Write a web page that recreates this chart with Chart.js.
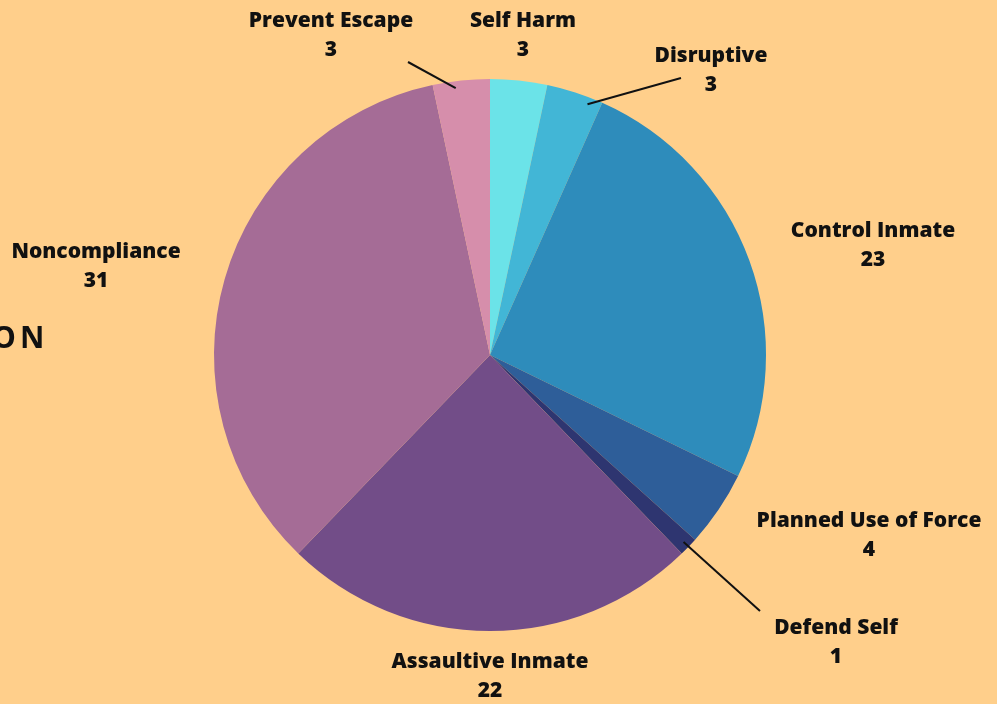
<!DOCTYPE html>
<html>
<head>
<meta charset="utf-8">
<script src="https://cdn.jsdelivr.net/npm/chart.js@4"></script>
<style>
  html, body { margin: 0; padding: 0; background: #ffcf8b; overflow: hidden; }
  #wrap { position: relative; width: 997px; height: 704px; }
  #heading {
    position: absolute; left: -8px; top: 316px;
    font-family: "Open Sans", sans-serif; font-weight: 700; font-size: 30px;
    letter-spacing: 4px; color: #111; white-space: nowrap;
  }
</style>
</head>
<body>
<div id="wrap">
  <div id="heading">ON</div>
  <canvas id="pieChart" width="997" height="704"></canvas>
</div>
<script>
const categories = ['Self Harm', 'Disruptive', 'Control Inmate', 'Planned Use of Force',
  'Defend Self', 'Assaultive Inmate', 'Noncompliance', 'Prevent Escape'];
const counts = [3, 3, 23, 4, 1, 22, 31, 3];
const sliceColors = ['#6be3e8', '#42b6d6', '#2e8cbb', '#2e5e99',
  '#2e3570', '#724d88', '#a56c96', '#d68eab'];

// where each label's two lines are centred, and optional leader line
// (t = position along the slice's arc, end = where the line stops)
const labelSpots = [
  { x: 523, y: 20, leader: null },
  { x: 711, y: 55, leader: { t: 0.77, end: [681, 78] } },
  { x: 873, y: 230, leader: null },
  { x: 869, y: 520, leader: null },
  { x: 836, y: 627, leader: { t: 0.5, end: [760, 611] } },
  { x: 490, y: 661, leader: null },
  { x: 96, y: 251, leader: null },
  { x: 331, y: 20, leader: { t: 0.39, end: [408, 62] } }
];

const sliceLabels = {
  id: 'sliceLabels',
  afterDatasetsDraw(chart) {
    const ctx = chart.ctx;
    const arcs = chart.getDatasetMeta(0).data;
    ctx.save();
    arcs.forEach((arc, i) => {
      const spot = labelSpots[i];
      if (spot.leader) {
        const p = arc.getProps(['x', 'y', 'startAngle', 'endAngle', 'outerRadius'], true);
        const a = p.startAngle + (p.endAngle - p.startAngle) * spot.leader.t;
        const r = p.outerRadius * 0.975;
        ctx.beginPath();
        ctx.moveTo(p.x + Math.cos(a) * r, p.y + Math.sin(a) * r);
        ctx.lineTo(spot.leader.end[0], spot.leader.end[1]);
        ctx.strokeStyle = '#111';
        ctx.lineWidth = 2;
        ctx.stroke();
      }
      ctx.fillStyle = '#111';
      ctx.font = '800 21px "Open Sans"';
      ctx.textAlign = 'center';
      ctx.textBaseline = 'middle';
      ctx.fillText(categories[i], spot.x, spot.y + 1);
      ctx.fillText(String(counts[i]), spot.x, spot.y + 30);
    });
    ctx.restore();
  }
};

new Chart(document.getElementById('pieChart'), {
  type: 'pie',
  data: {
    labels: categories,
    datasets: [{
      data: counts,
      backgroundColor: sliceColors,
      borderWidth: 0
    }]
  },
  options: {
    responsive: false,
    animation: false,
    layout: { padding: { left: 214, right: 231, top: 79, bottom: 73 } },
    plugins: {
      legend: { display: false },
      tooltip: { enabled: false }
    }
  },
  plugins: [sliceLabels]
});
</script>
</body>
</html>
